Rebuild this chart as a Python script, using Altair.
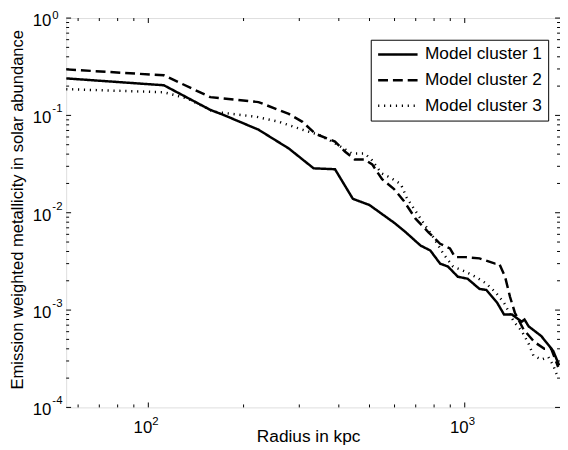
import altair as alt
import pandas as pd

FONT = "Liberation Sans"

# ---- data ----
series_names = ["Model cluster 1", "Model cluster 2", "Model cluster 3"]

radius_1 = [55, 112, 157, 173, 223, 278, 333, 389, 443, 500, 598, 651, 725, 778, 836,
            885, 951, 1021, 1113, 1170, 1266, 1331, 1410, 1514, 1545, 1592, 1746, 1904, 1988]
metal_1 = [0.240, 0.204, 0.114, 0.101, 0.0713, 0.0457, 0.0286, 0.0280, 0.0139, 0.0120,
           0.0079, 0.0063, 0.0046, 0.0041, 0.0030, 0.0028, 0.0022, 0.0021, 0.00165,
           0.00161, 0.00119, 0.00090, 0.00090, 0.00076, 0.00080, 0.00068, 0.00054,
           0.00038, 0.00027]

radius_2 = [55, 112, 157, 223, 278, 307, 337, 389, 418, 449, 482, 510, 548, 598, 641,
            699, 768, 836, 898, 931, 1007, 1113, 1247, 1285, 1341, 1390, 1440, 1535,
            1660, 1785, 1877, 1973]
metal_2 = [0.297, 0.258, 0.154, 0.137, 0.1035, 0.0859, 0.0648, 0.0538, 0.0426, 0.0353,
           0.0353, 0.0314, 0.0221, 0.0175, 0.0133, 0.0087, 0.0063, 0.0048, 0.0043,
           0.0035, 0.0035, 0.0034, 0.0030, 0.0030, 0.0022, 0.00137, 0.00094, 0.00063,
           0.00047, 0.00040, 0.00040, 0.00026]

radius_3 = [55, 112, 133, 161, 220, 259, 307, 345, 381, 440, 482, 507, 545, 585, 628,
            656, 725, 796, 855, 919, 1000, 1081, 1162, 1247, 1331, 1430, 1514, 1592,
            1649, 1746, 1837, 1904, 1973]
metal_3 = [0.186, 0.173, 0.149, 0.109, 0.0967, 0.0859, 0.0713, 0.0634, 0.0538, 0.0407,
           0.0407, 0.0353, 0.0255, 0.0227, 0.0197, 0.0142, 0.0087, 0.0056, 0.0038,
           0.0028, 0.0025, 0.0022, 0.0019, 0.00154, 0.00119, 0.00076, 0.00061, 0.00045,
           0.00034, 0.00031, 0.00033, 0.00027, 0.00020]

# axis ticks / labels
x_major = [100, 1000]
x_major_exp = ["2", "3"]
x_minor = [60, 70, 80, 90, 200, 300, 400, 500, 600, 700, 800, 900]
y_major = [1e-4, 1e-3, 1e-2, 1e-1]
y_major_exp = ["-4", "-3", "-2", "-1"]
y_top = [1]
y_top_exp = ["0"]
y_minor = [2e-4, 3e-4, 4e-4, 5e-4, 6e-4, 7e-4, 8e-4, 9e-4,
           2e-3, 3e-3, 4e-3, 5e-3, 6e-3, 7e-3, 8e-3, 9e-3,
           2e-2, 3e-2, 4e-2, 5e-2, 6e-2, 7e-2, 8e-2, 9e-2,
           2e-1, 3e-1, 4e-1, 5e-1, 6e-1, 7e-1, 8e-1, 9e-1]

# ---- build tables ----
rows = []
for name, rs, zs in zip(series_names, [radius_1, radius_2, radius_3],
                        [metal_1, metal_2, metal_3]):
    for r, z in zip(rs, zs):
        rows.append({"r": r, "z": z, "s": name})
df = pd.DataFrame(rows)

W, H = 501, 395
xscale = alt.Scale(type="log", domain=[55, 2000], nice=False)
yscale = alt.Scale(type="log", domain=[1e-4, 1], nice=False)

lines = alt.Chart(df).mark_line(color="black", strokeWidth=2.5, clip=True,
                                strokeCap="butt").encode(
    x=alt.X("r:Q", scale=xscale,
            axis=alt.Axis(title="Radius in kpc", domain=False, ticks=False, labels=False,
                          grid=False, titleX=245.5, titleY=35, titleBaseline="alphabetic",
                          titleAlign="center", titleFont=FONT, titleFontSize=17.5,
                          titleFontWeight="normal", titleColor="black")),
    y=alt.Y("z:Q", scale=yscale,
            axis=alt.Axis(title="Emission weighted metallicity in solar abundance",
                          domain=False, ticks=False, labels=False, grid=False,
                          titleX=-49, titleY=194, titleAngle=270, titleBaseline="middle",
                          titleAlign="center", titleFont=FONT, titleFontSize=16.8,
                          titleFontWeight="normal", titleColor="black")),
    strokeDash=alt.StrokeDash(
        "s:N",
        scale=alt.Scale(domain=series_names, range=[[1, 0], [10, 5], [1.2, 4.8]]),
        legend=alt.Legend(title=None, orient="none", legendX=309, legendY=22,
                          strokeColor="black", fillColor="white", padding=6,
                          symbolType="stroke", symbolSize=1600, symbolStrokeWidth=2.5,
                          symbolStrokeColor="black", labelFont=FONT, labelFontSize=17.5,
                          labelColor="black", labelOffset=6, clipHeight=18,
                          rowPadding=8, labelLimit=300)),
)

xmaj_df = pd.DataFrame({"r": x_major, "e": x_major_exp})
xmin_df = pd.DataFrame({"r": x_minor})
ymaj_df = pd.DataFrame({"z": y_major, "e": y_major_exp})
ytop_df = pd.DataFrame({"z": y_top, "e": y_top_exp})
ymin_df = pd.DataFrame({"z": y_minor})


def xticks(d, length):
    bottom = alt.Chart(d).mark_rule(color="black", strokeWidth=1).encode(
        x=alt.X("r:Q", scale=xscale), y=alt.value(H), y2=alt.value(H - length))
    top = alt.Chart(d).mark_rule(color="black", strokeWidth=1).encode(
        x=alt.X("r:Q", scale=xscale), y=alt.value(0), y2=alt.value(length))
    return [bottom, top]


def yticks(d, length):
    left = alt.Chart(d).mark_rule(color="black", strokeWidth=1).encode(
        y=alt.Y("z:Q", scale=yscale), x=alt.value(0), x2=alt.value(length))
    right = alt.Chart(d).mark_rule(color="black", strokeWidth=1).encode(
        y=alt.Y("z:Q", scale=yscale), x=alt.value(W), x2=alt.value(W - length))
    return [left, right]


tick_layers = (xticks(xmaj_df, 5) + xticks(xmin_df, 3) + yticks(ymaj_df, 5)
               + yticks(ytop_df, 5) + yticks(ymin_df, 3))

x_base = alt.Chart(xmaj_df).mark_text(text="10", align="right", baseline="alphabetic",
                                      dx=4, font=FONT, fontSize=17, color="black").encode(
    x=alt.X("r:Q", scale=xscale), y=alt.value(421))
x_exp = alt.Chart(xmaj_df).mark_text(align="left", baseline="alphabetic", dx=4,
                                     font=FONT, fontSize=11.5, color="black").encode(
    x=alt.X("r:Q", scale=xscale), y=alt.value(413), text="e:N")


def ylabels(d, exp_dy):
    base = alt.Chart(d).mark_text(text="10", align="right", baseline="alphabetic",
                                  dy=8, font=FONT, fontSize=17, color="black").encode(
        y=alt.Y("z:Q", scale=yscale), x=alt.value(-15))
    exp = alt.Chart(d).mark_text(align="left", baseline="alphabetic", dy=exp_dy,
                                 font=FONT, fontSize=11.5, color="black").encode(
        y=alt.Y("z:Q", scale=yscale), x=alt.value(-14), text="e:N")
    return [base, exp]


label_layers = [x_base, x_exp] + ylabels(ymaj_df, -3) + ylabels(ytop_df, 1)

chart = alt.layer(lines, *tick_layers, *label_layers).properties(
    width=W, height=H,
    padding={"left": 59, "top": 7, "right": 0, "bottom": 41},
    autosize=alt.AutoSizeParams(type="none"),
).configure_view(stroke="black", strokeWidth=1).configure(background="white")

chart.save("out.html", embed_options={"renderer": "svg", "actions": False})
